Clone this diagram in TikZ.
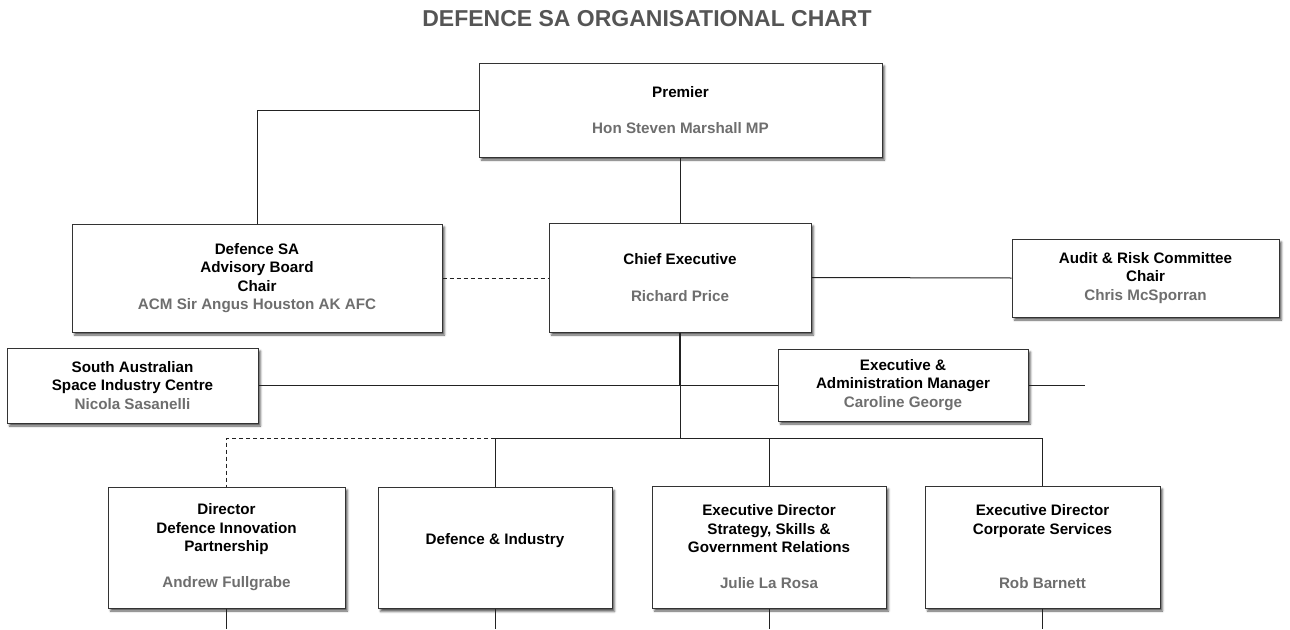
\documentclass[tikz,border=0pt]{standalone}
\usepackage{fontspec}
\setmainfont{Liberation Sans}
\usetikzlibrary{shadows.blur}

\definecolor{boxline}{HTML}{333333}
\definecolor{linkcol}{HTML}{222222}
\definecolor{namegray}{HTML}{6E6E6E}
\definecolor{titlegray}{HTML}{555555}
\newcommand{\who}[1]{\textcolor{namegray}{#1}}

\tikzset{
  post/.style={draw=boxline, line width=1pt, fill=white, align=center,
    font=\fontsize{15.2}{18.3}\selectfont\bfseries, inner sep=2pt,
    blur shadow={shadow xshift=2.5pt, shadow yshift=-3pt,
      shadow blur radius=2pt, shadow opacity=65}},
  link/.style={draw=linkcol, line width=1pt},
  dottedlink/.style={link, dashed, dash pattern=on 4pt off 3pt}
}

\begin{document}
\begin{tikzpicture}[x=1pt, y=-1pt]
    \useasboundingbox (0,0) rectangle (1290,629);

    % Title
    \node[font=\fontsize{23}{27}\selectfont\bfseries, text=titlegray] (title) at (647,19)
        {DEFENCE SA ORGANISATIONAL CHART};

    % Premier and Chief Executive
    \node[post, minimum width=403pt, minimum height=94pt] (premier) at (680.5,110)
        {Premier\\[17pt]\who{Hon Steven Marshall MP}};
    \node[post, minimum width=262pt, minimum height=109pt] (ceo) at (680,277.5)
        {Chief Executive\\[18pt]\who{Richard Price}};

    % Boards and committees
    \node[post, minimum width=370pt, minimum height=108pt] (board) at (257,278)
        {Defence SA\\Advisory Board\\Chair\\\who{ACM Sir Angus Houston AK AFC}};
    \node[post, minimum width=267pt, minimum height=78pt] (audit) at (1145.5,278)
        {Audit \& Risk Committee\\Chair\\\who{Chris McSporran}};

    % Units beside the trunk
    \node[post, minimum width=251pt, minimum height=75pt] (space) at (132.5,385.5)
        {South Australian\\Space Industry Centre\\\who{Nicola Sasanelli}};
    \node[post, minimum width=250pt, minimum height=72pt] (admin) at (903,385)
        {Executive \&\\Administration Manager\\\who{Caroline George}};

    % Directorates
    \node[post, minimum width=237pt, minimum height=121pt] (dip) at (226.5,547.5)
        {Director\\Defence Innovation\\Partnership\\[18pt]\who{Andrew Fullgrabe}};
    \node[post, minimum width=234pt, minimum height=121pt] (defind) at (495,548)
        {Defence \& Industry\\~};
    \node[post, minimum width=234pt, minimum height=122pt] (strat) at (769,547)
        {Executive Director\\Strategy, Skills \&\\Government Relations\\[18pt]\who{Julie La Rosa}};
    \node[post, minimum width=235pt, minimum height=122pt] (corp) at (1042.5,547)
        {Executive Director\\Corporate Services\\~\\[18pt]\who{Rob Barnett}};

    % Free ends
    \coordinate (hub) at (ceo.south |- space.east);
    \coordinate (bus) at (ceo.south |- 0,438);
    \coordinate (adminend) at (1085,385);
    \coordinate (pageend) at (0,629);

    % Reporting lines
    \draw[link] (premier.west) -| (board.north);
    \draw[link] (premier.south) -- (premier.south |- ceo.north);
    \draw[dottedlink] (board.east) -- (board.east -| ceo.west);
    \draw[link] (ceo.east) -- (audit.west);

    % Trunk
    \draw[link, line width=2.5pt] (ceo.south) -- (hub);
    \draw[link] (hub) -- (bus);
    \draw[link] (space.east) -- (space.east -| hub);
    \draw[link] (admin.west) -- (admin.west -| hub);
    \draw[link] (admin.east) -- (adminend);

    % Bus to directorates
    \draw[link] (bus) -| (corp.north);
    \draw[link] (bus) -| (strat.north);
    \draw[link] (bus) -| (defind.north);
    \draw[dottedlink] (defind.north |- bus) -| (dip.north);
    \foreach \n in {dip,defind,strat,corp}
        \draw[link] (\n.south) -- (\n.south |- pageend);
\end{tikzpicture}
\end{document}
